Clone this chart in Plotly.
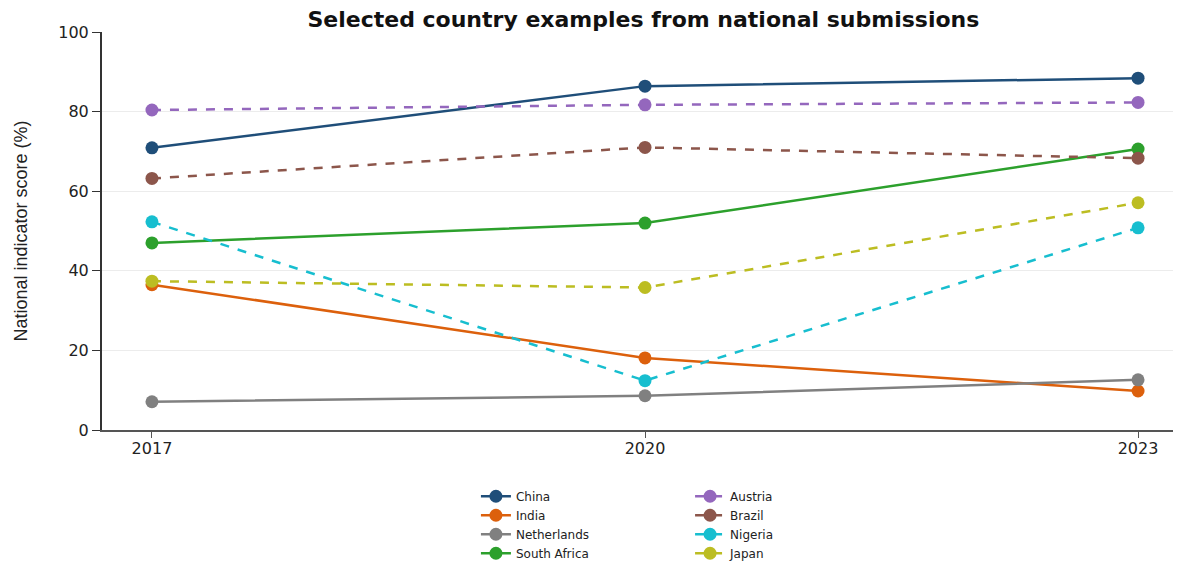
import plotly.graph_objects as go

years = [2017, 2020, 2023]
countries = ["China", "India", "Netherlands", "South Africa", "Austria", "Brazil", "Nigeria", "Japan"]
china = [70.9, 86.4, 88.4]
india = [36.5, 18.1, 9.8]
netherlands = [7.1, 8.6, 12.6]
south_africa = [47.0, 52.0, 70.6]
austria = [80.4, 81.7, 82.3]
brazil = [63.2, 71.0, 68.3]
nigeria = [52.3, 12.4, 50.8]
japan = [37.4, 35.8, 57.1]

values = [china, india, netherlands, south_africa, austria, brazil, nigeria, japan]
colors = ["#1f4e79", "#dc600c", "#808080", "#2ca02c", "#9467bd", "#8c564b", "#17becf", "#bcbd22"]
dashes = ["solid", "solid", "solid", "solid", "dash", "dash", "dash", "dash"]
legends = ["legend", "legend", "legend", "legend", "legend2", "legend2", "legend2", "legend2"]

fig = go.Figure()
for name, vals, col, dsh, lg in zip(countries, values, colors, dashes, legends):
    fig.add_trace(go.Scatter(
        x=years, y=vals, name=name, mode="lines+markers",
        line=dict(color=col, width=2.5, dash=dsh),
        marker=dict(color=col, size=13),
        legend=lg,
    ))

legend_font = dict(family="DejaVu Sans", size=12, color="#222")
fig.update_layout(
    width=1181, height=562,
    margin=dict(l=94, r=0, t=24, b=140),
    paper_bgcolor="white", plot_bgcolor="white",
    title=dict(text="Selected country examples from national submissions",
               x=0.538, xref="container", xanchor="center", y=0.993, yref="container", yanchor="top",
               font=dict(family="DejaVu Sans", size=22, color="#111", weight="bold")),
    legend=dict(orientation="v", x=0.344, xref="paper", xanchor="left",
                y=0.157, yref="container", yanchor="top",
                font=legend_font, bgcolor="rgba(0,0,0,0)", tracegroupgap=0),
    legend2=dict(orientation="v", x=0.541, xref="paper", xanchor="left",
                 y=0.157, yref="container", yanchor="top",
                 font=legend_font, bgcolor="rgba(0,0,0,0)", tracegroupgap=0),
    showlegend=True,
)
fig.update_xaxes(
    range=[2016.696, 2023.31], tickvals=years, ticktext=[str(y) for y in years],
    showgrid=False, zeroline=False, showline=True, linecolor="#555", linewidth=2,
    ticks="outside", ticklen=6, tickcolor="#555", automargin=False, tickangle=0,
    ticklabelstandoff=-3,
    tickfont=dict(family="DejaVu Sans", size=16, color="#222"),
)
fig.update_yaxes(
    range=[0, 100], tickvals=[0, 20, 40, 60, 80, 100],
    showgrid=True, gridcolor="#ececec", gridwidth=1, zeroline=False,
    showline=True, linecolor="#333", linewidth=2, automargin=False,
    ticks="outside", ticklen=8, tickcolor="#333",
    tickfont=dict(family="DejaVu Sans", size=16, color="#222"),
    title=dict(text="National indicator score (%)", standoff=26,
               font=dict(family="Liberation Sans", size=18, color="#222")),
)

fig.write_html("out.html")
